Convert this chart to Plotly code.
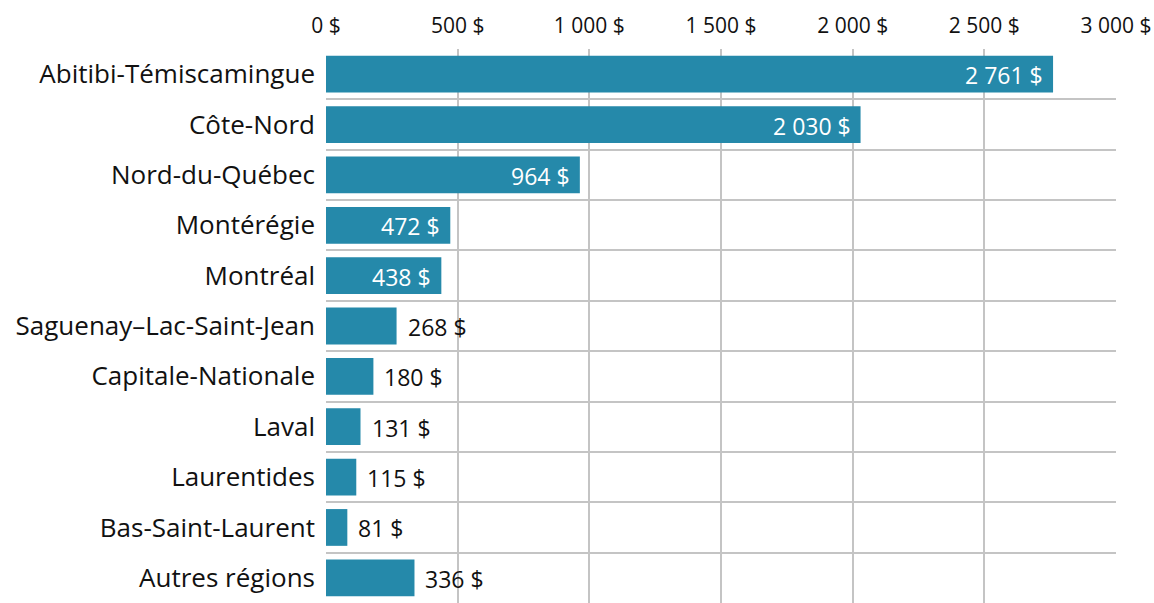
import plotly.graph_objects as go

categories = ["Abitibi-Témiscamingue", "Côte-Nord", "Nord-du-Québec", "Montérégie", "Montréal",
              "Saguenay–Lac-Saint-Jean", "Capitale-Nationale", "Laval", "Laurentides",
              "Bas-Saint-Laurent", "Autres régions"]
values = [2761, 2030, 964, 472, 438, 268, 180, 131, 115, 81, 336]
inside_threshold = 400
tick_vals = [0, 500, 1000, 1500, 2000, 2500, 3000]
tick_text = ["0 $", "500 $", "1 000 $", "1 500 $", "2 000 $", "2 500 $", "3 000 $"]

FONT = "Open Sans"

def fmt(v):
    return f"{v:,}".replace(",", " ") + " $"

fig = go.Figure(go.Bar(
    x=values, y=categories, orientation="h",
    marker=dict(color="#2589aa", line=dict(width=0)),
    hoverinfo="skip",
))

annotations = []
for c, v in zip(categories, values):
    if v >= inside_threshold:
        annotations.append(dict(x=v, y=c, text=fmt(v), xanchor="right", xshift=-8, yshift=-1,
                                showarrow=False, font=dict(color="white", size=23, family=FONT)))
    else:
        annotations.append(dict(x=v, y=c, text=fmt(v), xanchor="left", xshift=9, yshift=-1,
                                showarrow=False, font=dict(color="#111111", size=23, family=FONT)))

fig.update_layout(
    width=1154, height=603,
    margin=dict(l=326, r=38, t=49, b=0, autoexpand=False),
    plot_bgcolor="white", paper_bgcolor="white",
    bargap=0.27,
    showlegend=False,
    annotations=annotations,
    font=dict(family=FONT, color="#111111"),
    xaxis=dict(side="top", range=[0, 3000], tickmode="array", tickvals=tick_vals, ticktext=tick_text,
               showgrid=True, gridcolor="#c4c4c4", gridwidth=2, zeroline=False,
               tickfont=dict(size=21, family=FONT, color="#111111"), ticks="", fixedrange=True,
               automargin=False, ticklabelstandoff=11),
    yaxis=dict(autorange="reversed", type="category", tickson="boundaries",
               showgrid=True, gridcolor="#c4c4c4", gridwidth=2, ticks="",
               tickfont=dict(size=26, family=FONT, color="#111111"), ticklabelstandoff=10,
               showline=False, zeroline=False, automargin=False, fixedrange=True),
)

fig.write_html("out.html", config={"displayModeBar": False},
               post_script="document.body.style.margin='0';document.body.style.padding='0';")
